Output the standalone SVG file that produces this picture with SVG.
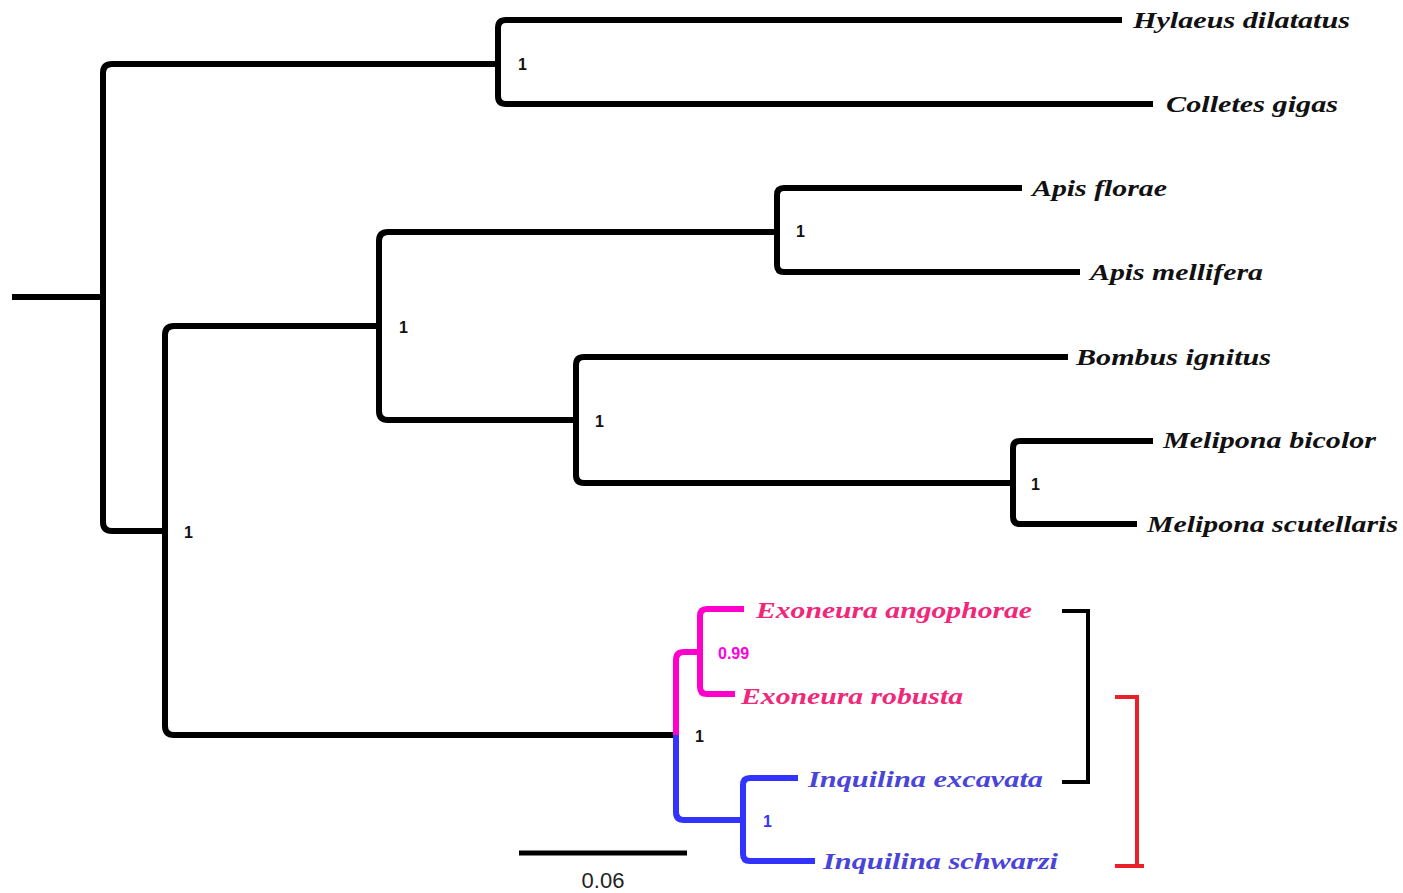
<svg xmlns="http://www.w3.org/2000/svg" width="1403" height="893" viewBox="0 0 1403 893">
<style>
.br{fill:none;stroke:#000;stroke-width:6;stroke-linecap:butt;stroke-linejoin:round}
.mg{fill:none;stroke:#ff00cc;stroke-width:6;stroke-linejoin:round}
.bl{fill:none;stroke:#3333ff;stroke-width:6;stroke-linejoin:round}
.tip{font-family:"Liberation Serif","Times New Roman",serif;font-weight:bold;font-style:italic;font-size:24px;fill:#111}
.sup{font-family:"Liberation Sans",Arial,sans-serif;font-weight:bold;font-size:16px;fill:#111}
</style>
<rect width="1403" height="893" fill="#fff"/>
<g id="connectors">
<path class="br" d="M12,297 H103"/>
<path class="br" d="M498,64 H112 Q103,64 103,73 V522 Q103,531 112,531 H165"/>
<path class="br" d="M1122,20 H506 Q498,20 498,28 V96 Q498,104 506,104 H1153"/>
<path class="br" d="M379,326 H174 Q165,326 165,335 V726 Q165,735 174,735 H676"/>
<path class="br" d="M777,232 H388 Q379,232 379,241 V411 Q379,420 388,420 H576"/>
<path class="br" d="M1022,188 H784 Q777,188 777,195 V265 Q777,272 784,272 H1080"/>
<path class="br" d="M1068,357 H584 Q576,357 576,365 V475 Q576,483 584,483 H1013"/>
<path class="br" d="M1153,441 H1020 Q1013,441 1013,448 V517 Q1013,524 1020,524 H1137"/>
<path class="mg" d="M676,735 V660 Q676,652 684,652 H700"/>
<path class="mg" d="M744,609 H707 Q700,609 700,616 V687 Q700,694 707,694 H735"/>
<path class="bl" d="M676,735 V812 Q676,820 684,820 H743"/>
<path class="bl" d="M798,778 H750 Q743,778 743,785 V854 Q743,861 750,861 H815"/>
</g>
<g id="scale">
<path d="M519,853 H687" stroke="#000" stroke-width="5" fill="none"/>
<text x="603" y="888" text-anchor="middle" font-family="Liberation Sans,Arial,sans-serif" font-size="22" fill="#222">0.06</text>
</g>
<g id="bracket-black">
<path d="M1062,611 H1088 V782 H1062" fill="none" stroke="#000" stroke-width="4"/>
</g>
<g id="bracket-red">
<path d="M1115,697 H1137 V866 H1115 M1137,866 H1144" fill="none" stroke="#e8202a" stroke-width="4"/>
</g>
<g id="node-hylaeus"><text class="tip" x="1133" y="28" textLength="217" lengthAdjust="spacingAndGlyphs">Hylaeus dilatatus</text></g>
<g id="node-colletes"><text class="tip" x="1166" y="112" textLength="172" lengthAdjust="spacingAndGlyphs">Colletes gigas</text></g>
<g id="node-apis-florae"><text class="tip" x="1032" y="196" textLength="135" lengthAdjust="spacingAndGlyphs">Apis florae</text></g>
<g id="node-apis-mellifera"><text class="tip" x="1090" y="280" textLength="173" lengthAdjust="spacingAndGlyphs">Apis mellifera</text></g>
<g id="node-bombus"><text class="tip" x="1076" y="365" textLength="195" lengthAdjust="spacingAndGlyphs">Bombus ignitus</text></g>
<g id="node-melipona-bicolor"><text class="tip" x="1163" y="448" textLength="213" lengthAdjust="spacingAndGlyphs">Melipona bicolor</text></g>
<g id="node-melipona-scutellaris"><text class="tip" x="1147" y="532" textLength="251" lengthAdjust="spacingAndGlyphs">Melipona scutellaris</text></g>
<g id="node-exoneura-angophorae"><text class="tip" x="756" y="618" textLength="276" lengthAdjust="spacingAndGlyphs" style="fill:#f0287a">Exoneura angophorae</text></g>
<g id="node-exoneura-robusta"><text class="tip" x="741" y="704" textLength="222" lengthAdjust="spacingAndGlyphs" style="fill:#f0287a">Exoneura robusta</text></g>
<g id="node-inquilina-excavata"><text class="tip" x="808" y="787" textLength="235" lengthAdjust="spacingAndGlyphs" style="fill:#4a45d8">Inquilina excavata</text></g>
<g id="node-inquilina-schwarzi"><text class="tip" x="823" y="869" textLength="235" lengthAdjust="spacingAndGlyphs" style="fill:#4a45d8">Inquilina schwarzi</text></g>
<g id="support-values">
<text class="sup" x="518" y="70">1</text>
<text class="sup" x="796" y="237">1</text>
<text class="sup" x="399" y="333">1</text>
<text class="sup" x="595" y="427">1</text>
<text class="sup" x="1031" y="490">1</text>
<text class="sup" x="184" y="538">1</text>
<text class="sup" x="695" y="742">1</text>
<text class="sup" x="718" y="659" style="fill:#ff00dd">0.99</text>
<text class="sup" x="763" y="827" style="fill:#3333ff">1</text>
</g>
</svg>
